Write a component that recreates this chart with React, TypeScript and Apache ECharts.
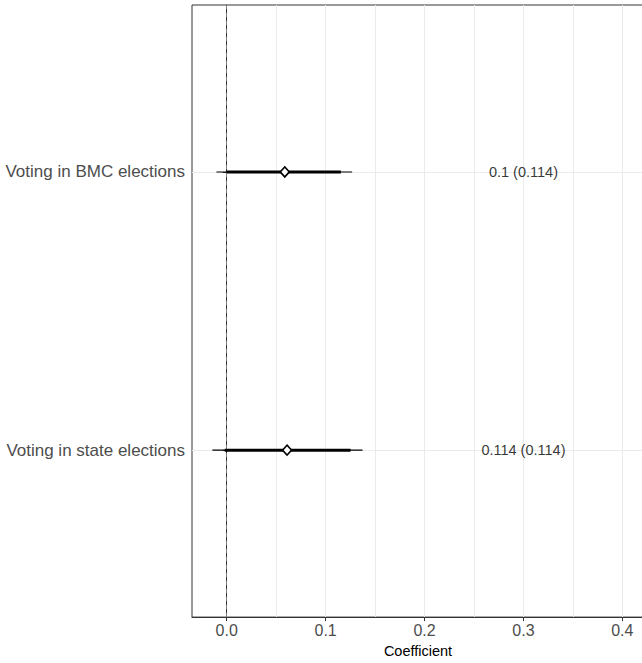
import React, { useEffect, useRef } from "react";
import * as echarts from "echarts";

const categories = ["Voting in state elections", "Voting in BMC elections"];
const yPositions = [1, 2];
const estimates = [0.061, 0.0587];
const lo95 = [-0.0145, -0.0104];
const hi95 = [0.1373, 0.1268];
const lo90 = [-0.002, 0.0];
const hi90 = [0.1252, 0.1154];
const labelTexts = ["0.114 (0.114)", "0.1 (0.114)"];
const labelX = 0.3;
const xTicks = [0, 0.1, 0.2, 0.3, 0.4];
const xGridLines = [0.05, 0.1, 0.15, 0.2, 0.25, 0.3, 0.35, 0.4];

const FONT = "Liberation Sans, Arial, Helvetica, sans-serif";

export default function App() {
  const ref = useRef<HTMLDivElement>(null);
  useEffect(() => {
    if (!ref.current) return;
    const chart = echarts.init(ref.current, null, { renderer: "svg" });
    const barData = categories.map((_, i) => [lo95[i], hi95[i], lo90[i], hi90[i], yPositions[i]]);
    chart.setOption({
      animation: false,
      backgroundColor: "#ffffff",
      textStyle: { fontFamily: FONT },
      grid: {
        left: 192,
        top: 5,
        width: 452,
        height: 617,
        show: true,
        borderColor: "#333333",
        borderWidth: 1,
        backgroundColor: "transparent",
      },
      xAxis: {
        type: "value",
        min: -0.0351,
        max: 0.4219,
        name: "Coefficient",
        nameLocation: "middle",
        nameGap: 13,
        nameTextStyle: { fontSize: 14.5, color: "#000000", fontFamily: FONT, verticalAlign: "top" },
        axisLine: { show: true, lineStyle: { color: "#333333", width: 1 } },
        axisTick: { show: true, length: 4, lineStyle: { color: "#333333" }, customValues: xTicks },
        axisLabel: {
          customValues: xTicks,
          fontSize: 16,
          color: "#4D4D4D",
          margin: 5,
          fontFamily: FONT,
          formatter: (v: number) => v.toFixed(1),
        },
        splitLine: { show: false },
      },
      yAxis: {
        type: "value",
        min: 0.4,
        max: 2.6,
        axisLine: { show: true, lineStyle: { color: "#333333", width: 1 } },
        axisTick: { show: true, length: 4, lineStyle: { color: "#333333" }, customValues: yPositions },
        axisLabel: {
          customValues: yPositions,
          fontSize: 17,
          color: "#4D4D4D",
          margin: 7,
          fontFamily: FONT,
          formatter: (v: number) => {
            const idx = yPositions.indexOf(Math.round(v));
            return idx >= 0 ? categories[idx] : "";
          },
        },
        splitLine: { show: false },
      },
      series: [
        {
          type: "line",
          data: [],
          silent: true,
          z: 0,
          zlevel: 0,
          markLine: {
            silent: true,
            z: 0,
            symbol: ["none", "none"],
            label: { show: false },
            lineStyle: { color: "#EBEBEB", type: "solid", width: 1 },
            data: [
              ...xGridLines.map((x) => ({ xAxis: x })),
              ...yPositions.map((y) => ({ yAxis: y })),
            ],
          },
        },
        {
          type: "line",
          data: [],
          silent: true,
          z: 1,
          markLine: {
            silent: true,
            z: 1,
            symbol: ["none", "none"],
            label: { show: false },
            lineStyle: { color: "#808080", type: [4, 4], width: 1 },
            data: [{ xAxis: 0 }],
          },
        },
        {
          type: "custom",
          silent: true,
          z: 4,
          encode: { x: [0, 1, 2, 3], y: 4 },
          data: barData,
          renderItem: (params: any, api: any) => {
            const y = api.value(4);
            const a = api.coord([api.value(0), y]);
            const b = api.coord([api.value(1), y]);
            const c = api.coord([api.value(2), y]);
            const d = api.coord([api.value(3), y]);
            return {
              type: "group",
              children: [
                {
                  type: "line",
                  shape: { x1: a[0], y1: a[1], x2: b[0], y2: b[1] },
                  style: { stroke: "#000000", lineWidth: 1.1 },
                },
                {
                  type: "line",
                  shape: { x1: c[0], y1: c[1], x2: d[0], y2: d[1] },
                  style: { stroke: "#000000", lineWidth: 3 },
                },
              ],
            };
          },
        },
        {
          type: "scatter",
          silent: true,
          symbol: "diamond",
          symbolSize: [9, 10],
          itemStyle: { color: "#ffffff", borderColor: "#000000", borderWidth: 1.6, opacity: 1 },
          data: categories.map((_, i) => [estimates[i], yPositions[i]]),
          z: 5,
        },
        {
          type: "scatter",
          silent: true,
          symbolSize: 1,
          itemStyle: { color: "rgba(0,0,0,0)" },
          data: categories.map((_, i) => ({ value: [labelX, yPositions[i]], name: labelTexts[i] })),
          label: {
            show: true,
            position: "inside",
            formatter: (p: any) => p.name,
            color: "#000000",
            fontSize: 14.5,
            fontFamily: FONT,
          },
          z: 6,
        },
      ],
    });
    return () => chart.dispose();
  }, []);
  return (
    <div
      style={{
        position: "fixed",
        left: 0,
        top: 0,
        width: 642,
        height: 663,
        overflow: "hidden",
        background: "#ffffff",
      }}
    >
      <div ref={ref} style={{ width: 660, height: 663 }} />
    </div>
  );
}
